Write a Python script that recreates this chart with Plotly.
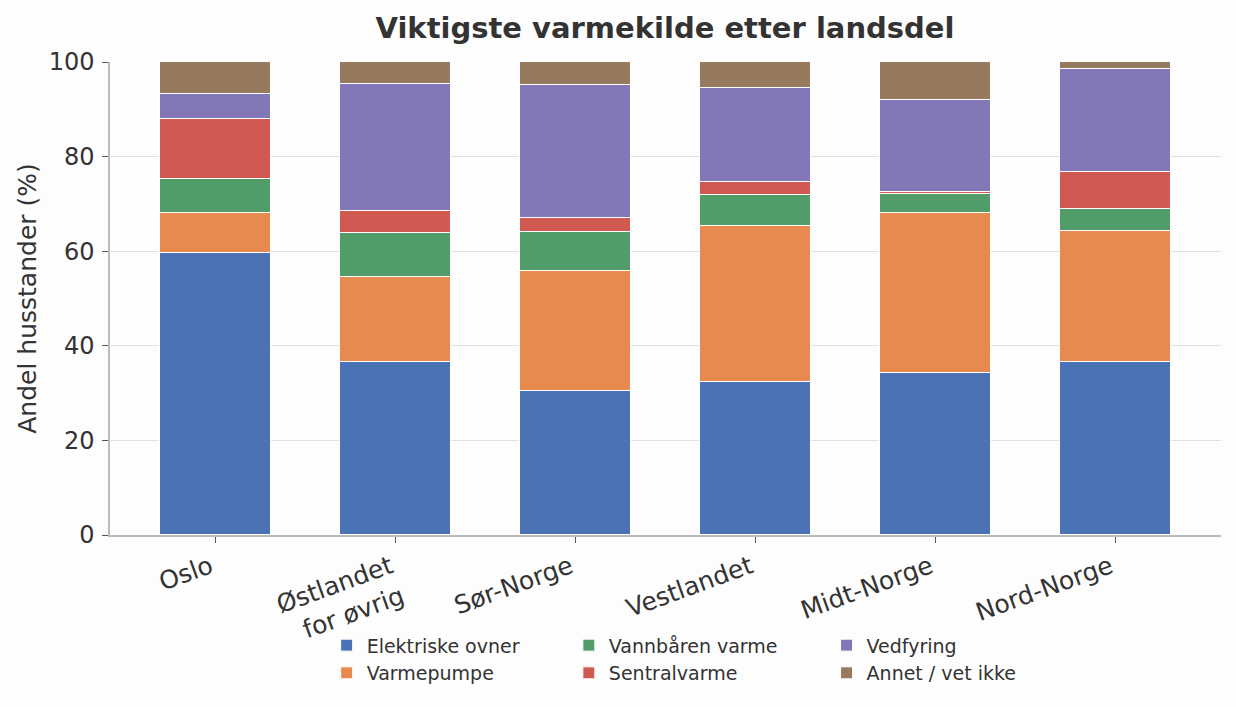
import plotly.graph_objects as go

categories = ["Oslo", "Østlandet<br>for øvrig", "Sør-Norge", "Vestlandet", "Midt-Norge", "Nord-Norge"]
elektriske = [59.7, 36.5, 30.4, 32.3, 34.2, 36.5]
varmepumpe = [8.3, 18.0, 25.5, 33.1, 33.8, 27.7]
vannbaaren = [7.2, 9.3, 8.1, 6.5, 4.1, 4.8]
sentral = [12.7, 4.8, 3.1, 2.8, 0.4, 7.7]
vedfyring = [5.3, 26.8, 28.1, 19.9, 19.4, 21.9]
annet = [6.8, 4.6, 4.8, 5.4, 8.1, 1.4]

series = [
    ("Elektriske ovner", elektriske, "#4a72b5", "legend"),
    ("Varmepumpe", varmepumpe, "#e88a50", "legend"),
    ("Vannbåren varme", vannbaaren, "#529c6a", "legend2"),
    ("Sentralvarme", sentral, "#d05a52", "legend2"),
    ("Vedfyring", vedfyring, "#8477b7", "legend3"),
    ("Annet / vet ikke", annet, "#977a5e", "legend3"),
]

fig = go.Figure()
for name, vals, color, lg in series:
    fig.add_trace(go.Bar(
        x=list(range(len(categories))), y=vals, name=name,
        marker=dict(color=color, line=dict(color="white", width=1)),
        width=0.62, legend=lg,
    ))

font_family = "DejaVu Sans"
leg_common = dict(orientation="v", yanchor="top", xanchor="left", traceorder="normal",
                  font=dict(family=font_family, size=19, color="#333333"),
                  bgcolor="rgba(0,0,0,0)", tracegroupgap=4, itemwidth=30)

fig.update_layout(
    width=1236, height=707,
    barmode="stack",
    paper_bgcolor="#fdfdfd", plot_bgcolor="#fdfdfd",
    margin=dict(l=110, r=15, t=62, b=172),
    title=dict(text="<b>Viktigste varmekilde etter landsdel</b>", x=0.538, xanchor="center",
               y=0.96, yanchor="middle",
               font=dict(family=font_family, size=29, color="#333333")),
    font=dict(family=font_family, color="#333333"),
    legend=dict(x=0.195, y=-0.193, **leg_common),
    legend2=dict(x=0.413, y=-0.193, **leg_common),
    legend3=dict(x=0.645, y=-0.193, **leg_common),
    bargap=0,
)
fig.update_xaxes(
    tickmode="array", tickvals=list(range(len(categories))), ticktext=categories,
    range=[-0.586, 5.586], tickangle=-20, ticklabelshift=-5,
    tickfont=dict(family=font_family, size=25, color="#333333"),
    showline=True, linecolor="#bbbbbb", linewidth=1.5,
    ticks="outside", ticklen=6, tickcolor="#555555",
    showgrid=False, zeroline=False,
)
fig.update_yaxes(
    range=[0, 100], tickvals=[0, 20, 40, 60, 80, 100],
    tickfont=dict(family=font_family, size=24, color="#333333"),
    ticklabelstandoff=3,
    title=dict(text="Andel husstander (%)", font=dict(family=font_family, size=25, color="#333333"), standoff=5),
    showline=True, linecolor="#bbbbbb", linewidth=1.5,
    ticks="outside", ticklen=6, tickcolor="#555555",
    showgrid=True, gridcolor="#e0e0e0", gridwidth=1.2, zeroline=False,
)

fig.write_html("out.html")
